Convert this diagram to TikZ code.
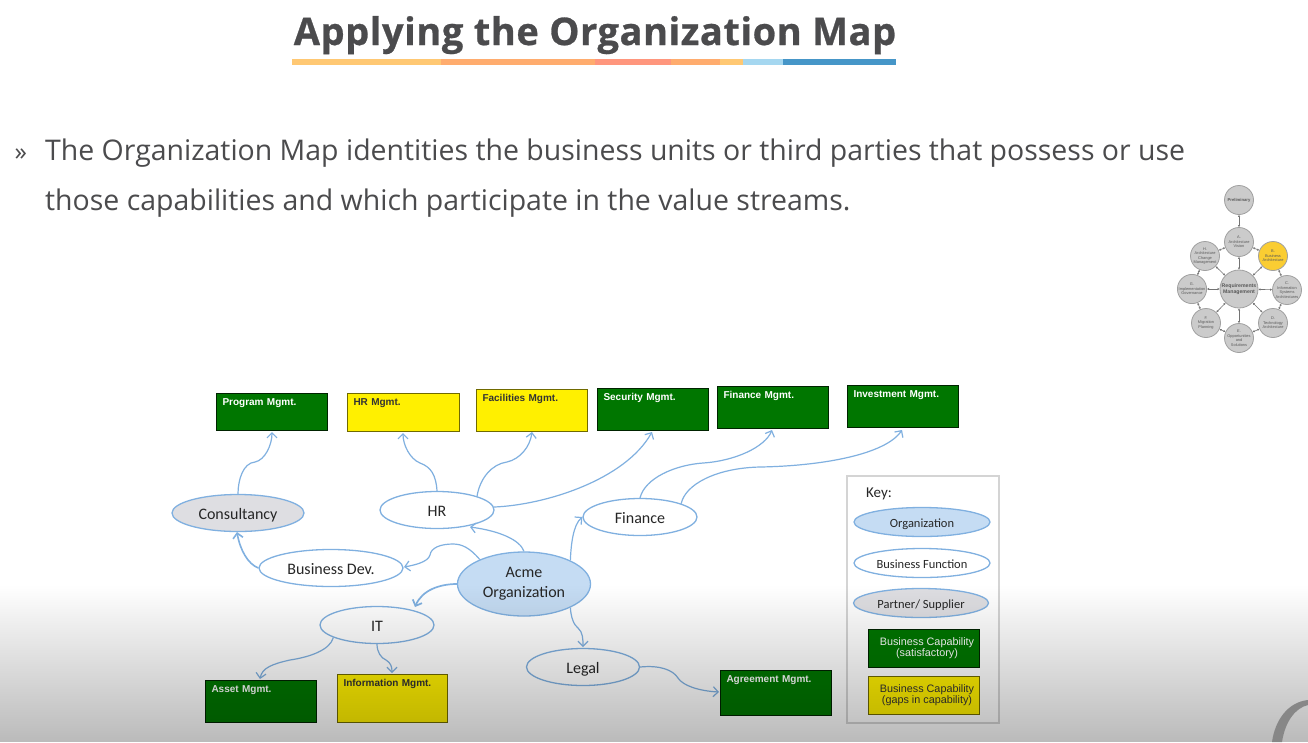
\documentclass[tikz,border=0pt]{standalone}
\usepackage{fontspec}
\setmainfont{Open Sans}
\newfontfamily\titlef[BoldFeatures={FakeBold=0.7,LetterSpace=1.5}]{Open Sans}
\newfontfamily\arialf{Liberation Sans}
\newfontfamily\calf{Carlito}
\usetikzlibrary{shapes.geometric,arrows.meta,fadings}
\definecolor{linkblue}{RGB}{128,176,224}
\definecolor{orgblue}{RGB}{197,220,243}
\definecolor{partnergray}{RGB}{222,222,226}
\definecolor{capgreen}{RGB}{0,118,0}
\definecolor{capyellow}{RGB}{255,240,0}
\definecolor{inktext}{RGB}{75,75,77}
\definecolor{wheelgray}{RGB}{203,203,203}
\definecolor{wheelline}{RGB}{160,160,160}
\tikzfading[name=vignette, top color=transparent!100, middle color=transparent!84, bottom color=transparent!73]
\tikzset{
  oval/.style args={#1 and #2}{ellipse, draw=linkblue, line width=1.3pt, inner sep=0pt, minimum width=#1, minimum height=#2, font=\calf\fontsize{16}{19.5}\selectfont, text=black!85, align=center, execute at begin node={\rule[-.2em]{0pt}{1.2em}}},
  orgoval/.style={fill=orgblue},
  funcoval/.style={fill=white},
  partneroval/.style={fill=partnergray},
  keyoval/.style={font=\calf\fontsize{12.5}{14}\selectfont},
  capbox/.style args={#1 and #2}{rectangle, anchor=north west, line width=1pt, inner xsep=6pt, inner ysep=4pt, text width=#1-12pt, text height=8pt, text depth=#2-16pt, align=left, font=\arialf\bfseries\fontsize{10}{11}\selectfont},
  goodcap/.style={capbox=#1, fill=capgreen, draw=black!70!capgreen, text=white},
  gapcap/.style={capbox=#1, fill=capyellow, draw=black!45!capyellow!80!black, text=black!80},
  legendcap/.style={rectangle, minimum width=111pt, minimum height=38pt, line width=1pt, inner sep=0pt, align=center, font=\arialf\fontsize{10.8}{11.5}\selectfont},
  link/.style={draw=linkblue, line width=1.2pt, -{Straight Barb[length=5pt,width=10pt]}},
  wheelnode/.style={circle, draw=wheelline, line width=.8pt, fill=wheelgray, inner sep=0pt, minimum size=#1, align=center, text=black!65, font=\arialf\fontsize{3.9}{4.6}\selectfont},
  wheelnode/.default=29pt,
  wheellink/.style={draw=black!55, line width=.6pt, {Latex[length=2pt,width=2.4pt]}-{Latex[length=2pt,width=2.4pt]}},
}
\begin{document}
\begin{tikzpicture}[x=1pt,y=-1pt]
\useasboundingbox (0,0) rectangle (1308,742);
\fill[white] (0,0) rectangle (1308,742);

% title
\node[anchor=base, text=inktext, font=\titlef\bfseries\fontsize{38}{40}\selectfont] (title) at (595,45) {Applying the Organization Map};
\foreach \xa/\xb/\barcol in {292/441/255 200 115, 441/595/255 172 110, 595/671/255 150 125, 671/720/255 172 110, 720/743/255 200 115, 743/783/165 215 240, 783/896/70 150 200}{
  \definecolor{barc}{RGB}{\barcol}
  \fill[barc] (\xa,59) rectangle (\xb,65);
}

% body
\node[anchor=base west, text=inktext, font=\fontsize{25}{26}\selectfont] (bullet) at (11,160.5) {»};
\node[anchor=base west, inner sep=0pt, text=inktext, font=\fontsize{28.45}{30}\selectfont] (line1) at (45,160.5) {The Organization Map identities the business units or third parties that possess or use};
\node[anchor=base west, inner sep=0pt, text=inktext, font=\fontsize{28.45}{30}\selectfont] (line2) at (45,210.5) {those capabilities and which participate in the value streams.};

% wheel
\node[wheelnode, font=\arialf\bfseries\fontsize{4.2}{4.8}\selectfont] (wp) at (1239,200) {Preliminary};
\node[wheelnode] (wa) at (1239,242) {A.\\Architecture\\Vision};
\node[wheelnode, fill={rgb,255:red,250;green,205;blue,50}] (wb) at (1273,256) {B.\\Business\\Architecture};
\node[wheelnode] (wc) at (1287,290) {C.\\Information\\Systems\\Architectures};
\node[wheelnode] (wd) at (1273,323) {D.\\Technology\\Architecture};
\node[wheelnode] (we) at (1239,338) {E.\\Opportunities\\and\\Solutions};
\node[wheelnode] (wf) at (1206,323) {F.\\Migration\\Planning};
\node[wheelnode] (wg) at (1192,289) {G.\\Implementation\\Governance};
\node[wheelnode] (wh) at (1205,256) {H.\\Architecture\\Change\\Management};
\node[wheelnode=38pt, font=\arialf\bfseries\fontsize{5.2}{6}\selectfont] (wr) at (1239,289) {Requirements\\Management};
\foreach \u/\v in {wp/wa,wa/wb,wb/wc,wc/wd,wd/we,we/wf,wf/wg,wg/wh,wh/wa,wr/wa,wr/wb,wr/wc,wr/wd,wr/we,wr/wf,wr/wg,wr/wh}
  \draw[wheellink] (\u) -- (\v);

% capability boxes
\node[goodcap=111pt and 37pt] (prog) at (216,393) {Program Mgmt.};
\node[gapcap=112pt and 38pt] (hrm) at (347,393) {HR Mgmt.};
\node[gapcap=111pt and 42pt] (fac) at (476,389) {Facilities Mgmt.};
\node[goodcap=111pt and 42pt] (sec) at (597,388) {Security Mgmt.};
\node[goodcap=111pt and 42pt] (fin) at (717,386) {Finance Mgmt.};
\node[goodcap=111pt and 42pt] (inv) at (847,385) {Investment Mgmt.};
\node[goodcap=111pt and 42pt] (asset) at (205,680) {Asset Mgmt.};
\node[gapcap=110pt and 48pt] (info) at (337,674) {Information Mgmt.};
\node[goodcap=111pt and 45pt] (agr) at (720,670) {Agreement Mgmt.};

% ovals
\node[oval=132pt and 37pt, partneroval] (cons) at (238,513) {Consultancy};
\node[oval=114pt and 37pt, funcoval] (hr) at (437,510) {HR};
\node[oval=114pt and 37pt, funcoval] (finance) at (640,517) {Finance};
\node[oval=144pt and 37pt, funcoval] (bdev) at (331,568) {Business Dev.};
\node[oval=133pt and 64pt, orgoval] (acme) at (524,584) {Acme\\Organization};
\node[oval=114pt and 37pt, funcoval] (it) at (377,625) {IT};
\node[oval=113pt and 37pt, funcoval] (legal) at (583,667) {Legal};

% connectors
\draw[link] (cons.north) .. controls (238,480) and (243,463) .. (255,462) .. controls (265,460) and (272,445) .. (272,432);
\draw[link, line width=1.6pt] (bdev.west) .. controls (248,564) and (240,550) .. (237,532);
\draw[link] (acme.151) .. controls (470,548) and (462,544) .. (453,544) .. controls (440,544) and (431,548) .. (430,555) .. controls (428,562) and (415,565) .. (404,567);
\draw[link] (acme.north) .. controls (520,540) and (500,531) .. (470,527);
\draw[link, line width=1.7pt] (acme.west) .. controls (440,584) and (422,590) .. (415,607);
\draw[link] (acme.27) .. controls (571,545) and (573,525) .. (finance.west);
\draw[link] (acme.-27) .. controls (571,618) and (574,625) .. (578,628) .. controls (583,632) and (583,640) .. (583,647);
\draw[link] (hr.north) .. controls (436,475) and (431,467) .. (420,463) .. controls (410,459) and (403,445) .. (403,433);
\draw[link] (hr.19) .. controls (480,478) and (492,464) .. (507,462) .. controls (520,459) and (530,447) .. (532,432);
\draw[link] (hr.3) .. controls (545,505) and (625,480) .. (652,432);
\draw[link] (finance.north) .. controls (645,478) and (675,465) .. (703,463) .. controls (735,461) and (765,447) .. (772,430);
\draw[link] (finance.18) .. controls (685,485) and (715,468) .. (760,467) .. controls (820,466) and (885,455) .. (902,430);
\draw[link] (it.-164) .. controls (330,650) and (310,657) .. (290,660) .. controls (272,664) and (262,668) .. (260,679);
\draw[link] (it.south) .. controls (377,652) and (381,658) .. (386,660) .. controls (391,663) and (392,667) .. (392,673);
\draw[link] (legal.east) .. controls (660,665) and (673,670) .. (678,678) .. controls (683,686) and (700,691) .. (719,692);

% key
\draw[draw=black!17, line width=1.2pt] (847,476) rectangle (999,723);
\node[anchor=base west, inner sep=0pt, font=\calf\fontsize{15}{17}\selectfont, text=black!85] (keyt) at (866,497) {Key:};
\node[oval=136pt and 29pt, orgoval, keyoval] (k1) at (922,522) {Organization};
\node[oval=136pt and 29pt, funcoval, keyoval] (k2) at (922,563) {Business Function};
\node[oval=135pt and 29pt, partneroval, keyoval] (k3) at (921,603) {Partner/ Supplier};
\node[legendcap, fill=capgreen, draw=black!70!capgreen, text=white] (k4) at (923.5,648) {\hspace*{7pt}Business Capability\\\hspace*{7pt}(satisfactory)};
\node[legendcap, fill=capyellow, draw=black!45!capyellow!80!black, text=black!80] (k5) at (923.5,695) {\hspace*{7pt}Business Capability\\\hspace*{7pt}(gaps in capability)};

% video vignette and corner mark
\fill[black, path fading=vignette] (0,585) rectangle (1308,742);
\fill[black!47] (1272,742) .. controls (1275,720) and (1288,702) .. (1308,700) -- (1308,705) .. controls (1295,708) and (1285,722) .. (1282,742) -- cycle;
\end{tikzpicture}
\end{document}
